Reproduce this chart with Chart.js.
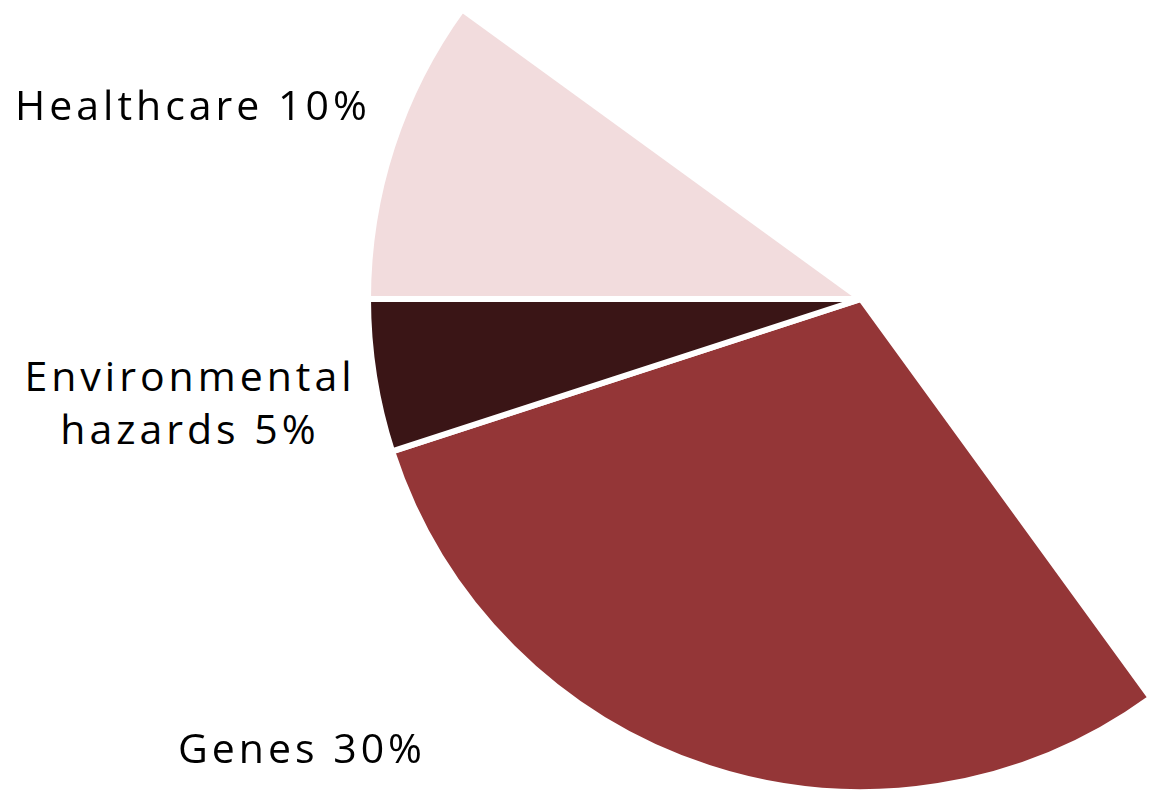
<!DOCTYPE html>
<html>
<head>
<meta charset="utf-8">
<script src="https://cdn.jsdelivr.net/npm/chart.js@4/dist/chart.umd.min.js"></script>
<style>
	html, body {
		margin: 0;
		width: 1149px;
		height: 798px;
		overflow: hidden;
		background: #ffffff;
		position: relative;
	}
	#wrap {
		position: absolute;
		left: 361px;
		top: -201px;
		width: 1000px;
		height: 1000px;
	}
	.lbl {
		position: absolute;
		font-family: "Open Sans", sans-serif;
		font-size: 41px;
		line-height: 1;
		letter-spacing: 4px;
		color: #000000;
		white-space: nowrap;
	}
</style>
</head>
<body>
<div id="wrap"><canvas id="health-pie" width="1000" height="1000"></canvas></div>
<div class="lbl" style="left:15px; top:84px;">Healthcare 10%</div>
<div class="lbl" style="left:20px; top:349px; width:340px; text-align:center; line-height:53px;">Environmental<br>hazards 5%</div>
<div class="lbl" style="left:178px; top:727px;">Genes 30%</div>
<script>
// slices in clockwise order; the last two are not shown in the picture
const categories = ["Genes", "Environmental hazards", "Healthcare", "Behavior", "Social circumstances"];
const shares = [30, 5, 10, 40, 15];
const sliceColors = ["#943637", "#3a1516", "#f2dcdd", "rgba(0,0,0,0)", "rgba(0,0,0,0)"];
const edgeColors = ["#ffffff", "#ffffff", "#ffffff", "rgba(0,0,0,0)", "rgba(0,0,0,0)"];

const getConfig = () => {
	return {
		type: "pie",
		data: {
			labels: categories,
			datasets: [
				{
					data: shares,
					backgroundColor: sliceColors,
					borderColor: edgeColors,
					borderWidth: 6,
					hoverOffset: 0,
				},
			],
		},
		options: {
			responsive: false,
			animation: false,
			rotation: 144,
			radius: 493,
			layout: { padding: 0 },
			events: [],
			plugins: {
				legend: { display: false },
				tooltip: { enabled: false },
			},
		},
	};
};

const healthPie = new Chart(document.getElementById("health-pie"), getConfig());
</script>
</body>
</html>
